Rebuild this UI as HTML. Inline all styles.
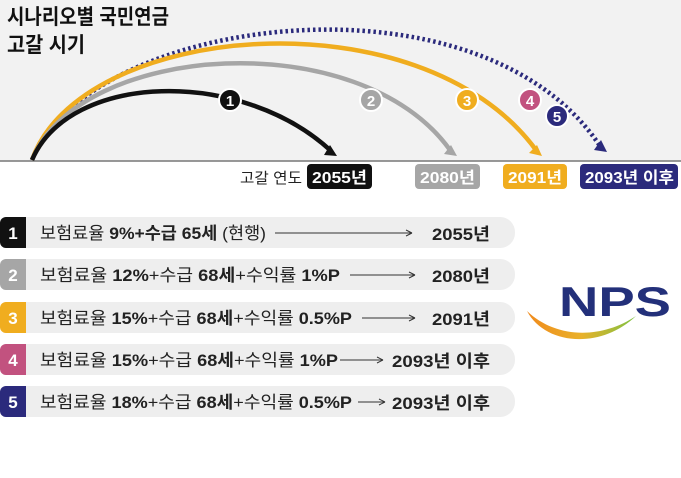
<!DOCTYPE html>
<html><head><meta charset="utf-8"><style>
html,body{margin:0;padding:0;background:#fff;}
svg{display:block;font-family:"Liberation Sans","Noto Sans CJK KR",sans-serif;}
</style></head><body>
<svg width="681" height="478" viewBox="0 0 681 478">
<defs>
<linearGradient id="sw" x1="0" x2="1" y1="0" y2="0"><stop offset="0" stop-color="#f08a1c"/><stop offset="0.5" stop-color="#e9b12a"/><stop offset="1" stop-color="#7dc242"/></linearGradient>
</defs>
<rect x="0" y="0" width="681" height="161" fill="#f2f2f2"/>
<line x1="0" y1="161" x2="681" y2="161" stroke="#777" stroke-width="1.5"/>
<g font-weight="700" fill="#111" font-size="21">
<text x="7" y="24" textLength="162" lengthAdjust="spacingAndGlyphs">시나리오별 국민연금</text>
<text x="7" y="52" textLength="78" lengthAdjust="spacingAndGlyphs">고갈 시기</text>
</g>
<path d="M32,160 C90,15 480,-35 600,146" fill="none" stroke="#2b2a7c" stroke-width="4.5" stroke-dasharray="2.5 3"/>
<path d="M607,152 l-13,-2 l7,-10 z" fill="#2b2a7c"/>
<path d="M32,160 C80,22 420,-8 536,150" fill="none" stroke="#f0ad1f" stroke-width="4.5"/>
<path d="M542,156 l-13,-3 l8,-8 z" fill="#f0ad1f"/>
<path d="M32,160 C80,42 360,24 450,150" fill="none" stroke="#a6a6a6" stroke-width="4.5"/>
<path d="M457,156 l-13,-2 l7,-9 z" fill="#a6a6a6"/>
<path d="M32,160 C70,72 240,68 330,150" fill="none" stroke="#111" stroke-width="4.5"/>
<path d="M337,156 l-13,-1 l6,-10 z" fill="#111"/>
<g font-weight="700" font-size="15" fill="#fff" text-anchor="middle">
<circle cx="230" cy="100" r="11" fill="#111" stroke="#fff" stroke-width="2"/><text x="230" y="106">1</text>
<circle cx="371" cy="100" r="11" fill="#a6a6a6" stroke="#fff" stroke-width="2"/><text x="371" y="106">2</text>
<circle cx="467" cy="100" r="11" fill="#f0ad1f" stroke="#fff" stroke-width="2"/><text x="467" y="106">3</text>
<circle cx="530" cy="100" r="11" fill="#c2527f" stroke="#fff" stroke-width="2"/><text x="530" y="106">4</text>
<circle cx="557" cy="116" r="11" fill="#2b2a7c" stroke="#fff" stroke-width="2"/><text x="557" y="122">5</text>
</g>
<text x="240" y="183" font-size="15" fill="#222" textLength="62" lengthAdjust="spacingAndGlyphs">고갈 연도</text>
<g font-weight="700" font-size="16" fill="#fff">
<rect x="307" y="164" width="65" height="25" rx="4" fill="#111"/><text x="312" y="183" textLength="55" lengthAdjust="spacingAndGlyphs">2055년</text>
<rect x="415" y="164" width="65" height="25" rx="4" fill="#a6a6a6"/><text x="420" y="183" textLength="55" lengthAdjust="spacingAndGlyphs">2080년</text>
<rect x="503" y="164" width="64" height="25" rx="4" fill="#f0ad1f"/><text x="508" y="183" textLength="54" lengthAdjust="spacingAndGlyphs">2091년</text>
<rect x="580" y="164" width="98" height="25" rx="4" fill="#2b2a7c"/><text x="585" y="183" textLength="89" lengthAdjust="spacingAndGlyphs">2093년 이후</text>
</g>
<g font-size="17" fill="#222">
<g>
<rect x="0" y="217" width="515" height="31" rx="15" fill="#eeeeee"/><path d="M6,217h20v31h-20a6,6 0 0 1 -6,-6v-19a6,6 0 0 1 6,-6z" fill="#111"/>
<text x="13" y="239" fill="#fff" font-weight="700" text-anchor="middle">1</text>
<text x="40" y="239" textLength="226" lengthAdjust="spacingAndGlyphs">보험료율 <tspan font-weight="700">9%+수급 65세</tspan> (현행)</text>
<line x1="275" y1="233" x2="412" y2="233" stroke="#333" stroke-width="1"/><path d="M412,233l-6,-3M412,233l-6,3" stroke="#333"/>
<text x="432" y="240" font-weight="700" textLength="58" lengthAdjust="spacingAndGlyphs">2055년</text></g>
<g>
<rect x="0" y="259" width="515" height="31" rx="15" fill="#eeeeee"/><path d="M6,259h20v31h-20a6,6 0 0 1 -6,-6v-19a6,6 0 0 1 6,-6z" fill="#a6a6a6"/>
<text x="13" y="281" fill="#fff" font-weight="700" text-anchor="middle">2</text>
<text x="40" y="281" textLength="300" lengthAdjust="spacingAndGlyphs">보험료율 <tspan font-weight="700">12%</tspan>+수급 <tspan font-weight="700">68세</tspan>+수익률 <tspan font-weight="700">1%P</tspan></text>
<line x1="350" y1="275" x2="415" y2="275" stroke="#333"/><path d="M415,275l-6,-3M415,275l-6,3" stroke="#333"/>
<text x="432" y="282" font-weight="700" textLength="58" lengthAdjust="spacingAndGlyphs">2080년</text></g>
<g>
<rect x="0" y="302" width="515" height="31" rx="15" fill="#eeeeee"/><path d="M6,302h20v31h-20a6,6 0 0 1 -6,-6v-19a6,6 0 0 1 6,-6z" fill="#f0ad1f"/>
<text x="13" y="324" fill="#fff" font-weight="700" text-anchor="middle">3</text>
<text x="40" y="324" textLength="312" lengthAdjust="spacingAndGlyphs">보험료율 <tspan font-weight="700">15%</tspan>+수급 <tspan font-weight="700">68세</tspan>+수익률 <tspan font-weight="700">0.5%P</tspan></text>
<line x1="362" y1="318" x2="415" y2="318" stroke="#333"/><path d="M415,318l-6,-3M415,318l-6,3" stroke="#333"/>
<text x="432" y="325" font-weight="700" textLength="58" lengthAdjust="spacingAndGlyphs">2091년</text></g>
<g>
<rect x="0" y="344" width="515" height="31" rx="15" fill="#eeeeee"/><path d="M6,344h20v31h-20a6,6 0 0 1 -6,-6v-19a6,6 0 0 1 6,-6z" fill="#c2527f"/>
<text x="13" y="366" fill="#fff" font-weight="700" text-anchor="middle">4</text>
<text x="40" y="366" textLength="298" lengthAdjust="spacingAndGlyphs">보험료율 <tspan font-weight="700">15%</tspan>+수급 <tspan font-weight="700">68세</tspan>+수익률 <tspan font-weight="700">1%P</tspan></text>
<line x1="340" y1="360" x2="383" y2="360" stroke="#333"/><path d="M383,360l-6,-3M383,360l-6,3" stroke="#333"/>
<text x="392" y="367" font-weight="700" textLength="98" lengthAdjust="spacingAndGlyphs">2093년 이후</text></g>
<g>
<rect x="0" y="386" width="515" height="31" rx="15" fill="#eeeeee"/><path d="M6,386h20v31h-20a6,6 0 0 1 -6,-6v-19a6,6 0 0 1 6,-6z" fill="#2b2a7c"/>
<text x="13" y="408" fill="#fff" font-weight="700" text-anchor="middle">5</text>
<text x="40" y="408" textLength="312" lengthAdjust="spacingAndGlyphs">보험료율 <tspan font-weight="700">18%</tspan>+수급 <tspan font-weight="700">68세</tspan>+수익률 <tspan font-weight="700">0.5%P</tspan></text>
<line x1="358" y1="402" x2="385" y2="402" stroke="#333"/><path d="M385,402l-6,-3M385,402l-6,3" stroke="#333"/>
<text x="392" y="409" font-weight="700" textLength="98" lengthAdjust="spacingAndGlyphs">2093년 이후</text></g>
</g>
<g>
<text x="559" y="316" font-size="42" font-weight="700" fill="#23307a" textLength="112" lengthAdjust="spacingAndGlyphs">NPS</text>
<path d="M527,311 C545,345 600,350 636,316 C600,340 555,338 527,311z" fill="url(#sw)"/>
</g>
</svg>
</body></html>
